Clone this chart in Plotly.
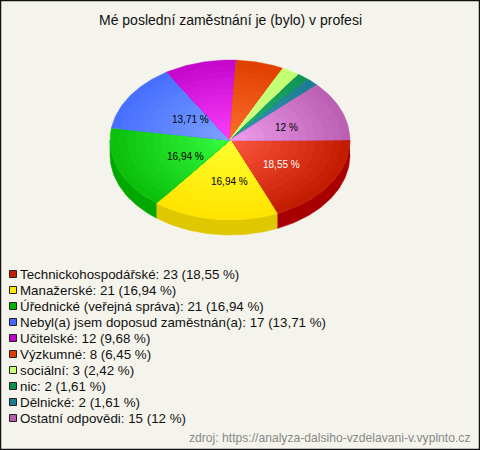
import math
import plotly.graph_objects as go

title = "Mé poslední zaměstnání je (bylo) v profesi"
source = "zdroj: https://analyza-dalsiho-vzdelavani-v.vyplnto.cz"
categories = ["Technickohospodářské", "Manažerské", "Úřednické (veřejná správa)",
              "Nebyl(a) jsem doposud zaměstnán(a)", "Učitelské", "Výzkumné", "sociální",
              "nic", "Dělnické", "Ostatní odpovědi"]
values = [23, 21, 21, 17, 12, 8, 3, 2, 2, 15]
percents = ["18,55 %", "16,94 %", "16,94 %", "13,71 %", "9,68 %", "6,45 %", "2,42 %",
            "1,61 %", "1,61 %", "12 %"]
shown = [True, True, True, True, False, False, False, False, False, True]
label_colors = ["white", "black", "black", "black", "black", "black", "black", "black", "black", "black"]
inner_colors = ["#ff5a42", "#ffff30", "#38ff44", "#80a4ff", "#ff40ff", "#ff7030", "#d4ff8c", "#24b878", "#3a98b8", "#f0a0f0"]
outer_colors = ["#c41c00", "#ffe400", "#0cc00c", "#4870ff", "#c408cc", "#e04000", "#c0ff70", "#109454", "#1c7c94", "#bc60b4"]
side_colors = ["#a80000", "#e0c800", "#00a800", "#3050c0", "#900098", "#a82c00", "#90c050", "#086c3c", "#145c70", "#884488"]
legend_colors = ["#c81e00", "#ffe800", "#00b400", "#4468ff", "#c000cc", "#e03c00", "#c8ff78", "#0c9050", "#1c7c94", "#b85cb0"]

CX, CY, RX, RY, DEPTH = 230, 140, 120, 80, 15
LAYERS = 14


def hex_mix(a, b, t):
    ca = [int(a[i:i + 2], 16) for i in (1, 3, 5)]
    cb = [int(b[i:i + 2], 16) for i in (1, 3, 5)]
    return "#%02x%02x%02x" % tuple(round(x + (y - x) * t) for x, y in zip(ca, cb))


def arc(a0, a1):
    n = max(2, int(abs(a1 - a0) / 0.02))
    return [a0 + (a1 - a0) * i / n for i in range(n + 1)]


fig = go.Figure()
total = sum(values)
edges = [0.0]
for v in values:
    edges.append(edges[-1] + v / total * 2 * math.pi)

# side wall (only the front half of the ellipse is visible)
for i in range(len(values)):
    a0, a1 = edges[i], min(edges[i + 1], math.pi)
    if a0 >= math.pi:
        continue
    pts = arc(a0, a1)
    xs = [CX + RX * math.cos(a) for a in pts]
    ys = [CY + RY * math.sin(a) for a in pts]
    fig.add_trace(go.Scatter(x=xs + xs[::-1], y=ys + [y + DEPTH for y in ys[::-1]],
                             mode="lines", fill="toself", fillcolor=side_colors[i],
                             line=dict(width=0.5, color=side_colors[i]), hoverinfo="skip"))

# top face: concentric bands imitate the radial gradient
for i in range(len(values)):
    pts = arc(edges[i], edges[i + 1])
    for k in range(LAYERS):
        t = 1 - k / LAYERS
        col = hex_mix(inner_colors[i], outer_colors[i], t)
        xs = [CX] + [CX + t * RX * math.cos(a) for a in pts] + [CX]
        ys = [CY] + [CY + t * RY * math.sin(a) for a in pts] + [CY]
        fig.add_trace(go.Scatter(x=xs, y=ys, mode="lines", fill="toself", fillcolor=col,
                                 line=dict(width=0.4, color=col), hoverinfo="skip"))

# percent labels on the big slices
for i, p in enumerate(percents):
    if not shown[i]:
        continue
    mid = (edges[i] + edges[i + 1]) / 2
    fig.add_annotation(x=236 + 0.455 * RX * math.cos(mid), y=142 + 0.5 * RY * math.sin(mid),
                       text=p, showarrow=False, xanchor="center", yanchor="middle",
                       font=dict(family="Liberation Sans", size=10, color=label_colors[i]))

# legend
for i, (c, v, p) in enumerate(zip(categories, values, percents)):
    y = 274 + 16 * i
    fig.add_shape(type="rect", x0=9.5, x1=16.5, y0=y - 3.5, y1=y + 3.5, fillcolor=legend_colors[i],
                  line=dict(color="#222222", width=1))
    fig.add_annotation(x=18, y=y, text=f"{c}: {v} ({p})", showarrow=False, xanchor="left",
                       yanchor="middle", font=dict(family="Liberation Sans", size=13.33, color="#111111"))

fig.add_annotation(x=230, y=20, text=title, showarrow=False, xanchor="center", yanchor="middle",
                   font=dict(family="Liberation Sans", size=14, color="#111111"))
fig.add_annotation(x=472, y=438, text=source, showarrow=False, xanchor="right", yanchor="middle",
                   font=dict(family="Liberation Sans", size=12.13, color="#888888"))
fig.add_shape(type="rect", x0=0.5, x1=479.5, y0=0.5, y1=449.5, line=dict(color="#111111", width=1.5))

fig.update_layout(width=480, height=450, margin=dict(l=0, r=0, t=0, b=0), showlegend=False,
                  paper_bgcolor="#f5f4ec", plot_bgcolor="#f5f4ec",
                  xaxis=dict(range=[0, 480], visible=False, fixedrange=True),
                  yaxis=dict(range=[450, 0], visible=False, fixedrange=True))
fig.write_html("out.html", config={"displayModeBar": False},
               post_script="document.body.style.margin='0';")
